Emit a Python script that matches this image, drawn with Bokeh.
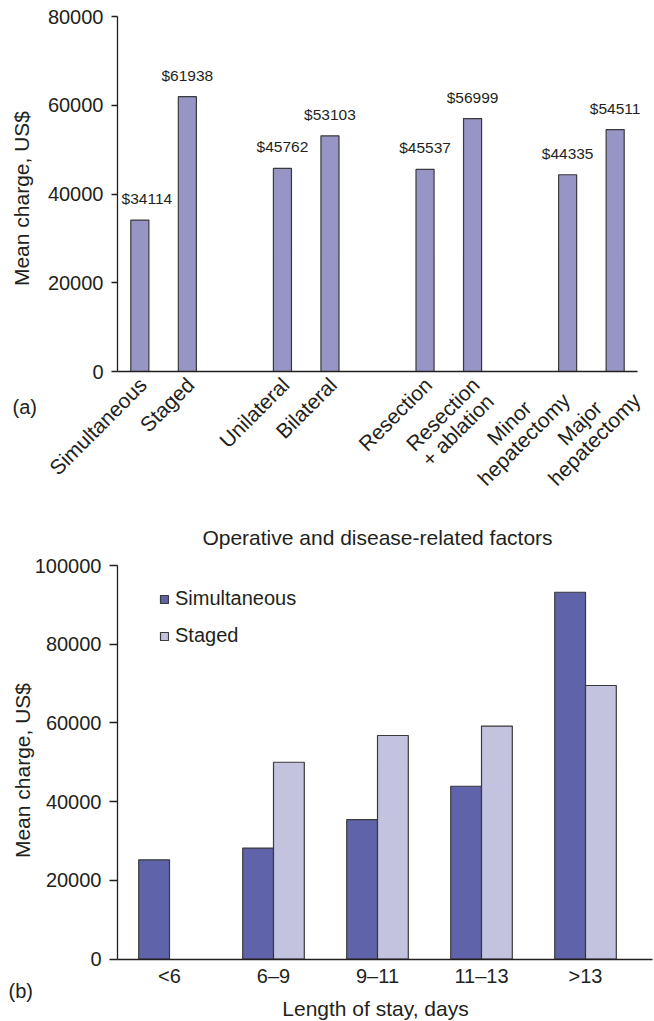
import math

from bokeh.core.properties import value
from bokeh.embed import file_html
from bokeh.layouts import column
from bokeh.models import (ColumnDataSource, FixedTicker, Label, LabelSet, Legend,
                          LegendItem, NumeralTickFormatter, Range1d)
from bokeh.plotting import figure
from bokeh.resources import INLINE

# ---- Panel (a): mean charge by operative and disease-related factor ----
NBSP = "\u00a0"
factor_labels = ["Simultaneous", "Staged", "Unilateral", "Bilateral",
                 "Resection", "Resection\n+ ablation",
                 NBSP * 6 + "Minor\nhepatectomy",
                 NBSP * 6 + "Major\nhepatectomy"]
factor_group = [0, 0, 1, 1, 2, 2, 3, 3]
factor_member = [0, 1, 0, 1, 0, 1, 0, 1]
mean_charge = [34114, 61938, 45762, 53103, 45537, 56999, 44335, 54511]
ticks_a = [0, 20000, 40000, 60000, 80000]

# ---- Panel (b): mean charge by length of stay ----
stay_bins = ["<6", "6\u20139", "9\u201311", "11\u201313", ">13"]
charge_simultaneous = [25200, 28200, 35400, 43900, 93200]
charge_staged = [None, 50000, 56800, 59200, 69500]
ticks_b = [0, 20000, 40000, 60000, 80000, 100000]

FONT = "Liberation Sans"
INK = "#231f20"
EDGE = "#3a3a3a"
W = 654

# small horizontal nudges (px) so neighbouring labels keep clear of each other
NAME_NUDGE = {6: -20, 7: 3}
VALUE_NUDGE = {0: 7}


def canvas_ranges(width, height, x0, x1, px_left, px_right, y1, px_top, px_base):
    """Ranges for a frame that fills the whole canvas, so that data x0..x1 spans
    px_left..px_right and data 0..y1 spans px_base..px_top (pixels from top-left)."""
    ux = (px_right - px_left) / (x1 - x0)
    uy = (px_base - px_top) / y1
    xr = Range1d(x0 - px_left / ux, x1 + (width - px_right) / ux)
    yr = Range1d(-(height - px_base) / uy, y1 + px_top / uy)
    return xr, yr


def base_figure(width, height, xr, yr):
    p = figure(width=width, height=height, x_range=xr, y_range=yr,
               output_backend="svg", toolbar_location=None, min_border=0,
               min_border_left=0, min_border_right=0, min_border_top=0,
               min_border_bottom=0)
    p.outline_line_color = None
    p.xgrid.grid_line_color = None
    p.ygrid.grid_line_color = None
    return p


def style_axes(p, x_lo, x_hi, y_hi, yticks, tick_out):
    xa, ya = p.xaxis[0], p.yaxis[0]
    xa.fixed_location = 0
    xa.bounds = (x_lo, x_hi)
    ya.fixed_location = x_lo
    ya.bounds = (0, y_hi)
    for ax in (xa, ya):
        ax.axis_line_color = INK
        ax.axis_line_width = 1.3
        ax.major_label_text_font = FONT
        ax.major_label_text_font_size = "20px"
        ax.major_label_text_color = INK
        ax.minor_tick_line_color = None
    xa.major_tick_line_color = None
    ya.major_tick_line_color = INK
    ya.major_tick_line_width = 1.3
    ya.major_tick_in = 0
    ya.major_tick_out = tick_out
    ya.major_label_standoff = 8
    ya.formatter = NumeralTickFormatter(format="0")
    ya.ticker = FixedTicker(ticks=yticks)


def text_label(text, x, y, height, size="21px", align="center", angle=0.0):
    # x, y in pixels from the canvas top-left
    return Label(x=x, y=height - y, x_units="screen", y_units="screen", text=text,
                 angle=angle, text_font=FONT, text_font_size=size,
                 text_color=INK, text_align=align, text_baseline="middle")


# ================= Panel (a) =================
H1 = 550
XA_LO, XA_HI = -0.47, 10.47
xr1, yr1 = canvas_ranges(W, H1, XA_LO, XA_HI, 117, 637, 80000, 16, 371)
p1 = base_figure(W, H1, xr1, yr1)

# bar centres: pairs one unit apart, pairs three units apart
pos_a = [3 * g + m for g, m in zip(factor_group, factor_member)]
n_a = len(pos_a)
src_a = ColumnDataSource(dict(
    x=pos_a,
    base=[0] * n_a,
    charge=mean_charge,
    text=["$%d" % v for v in mean_charge],
    name=factor_labels,
    value_dx=[VALUE_NUDGE.get(i, 0) for i in range(n_a)],
    name_dx=[-5 + NAME_NUDGE.get(i, 0) for i in range(n_a)],
))
p1.vbar(x="x", top="charge", width=0.38, source=src_a,
        fill_color="#9794c6", line_color=EDGE, line_width=1.2)
p1.add_layout(LabelSet(x="x", y="charge", text="text", source=src_a,
                       x_offset="value_dx", y_offset=13,
                       text_align="center", text_baseline="bottom",
                       text_font=value(FONT), text_font_size="15.5px",
                       text_color=INK))
p1.add_layout(LabelSet(x="x", y="base", text="name", source=src_a,
                       angle=math.pi / 4, x_offset="name_dx", y_offset=-1.5,
                       text_align="right", text_baseline="top",
                       text_line_height=0.95,
                       text_font=value(FONT), text_font_size="21px",
                       text_color=INK))
style_axes(p1, XA_LO, XA_HI, 80000, ticks_a, 6)
p1.xaxis.ticker = FixedTicker(ticks=[])
p1.add_layout(text_label("Mean charge, US$", 21, 198, H1, angle=math.pi / 2))
p1.add_layout(text_label("Operative and disease-related factors", 377, 537, H1))
p1.add_layout(text_label("(a)", 12, 406, H1, size="20px", align="left"))

# ================= Panel (b) =================
H2 = 1021 - H1
TOP_B = 565 - H1
XB_LO, XB_HI = -0.5, 4.644
xr2, yr2 = canvas_ranges(W, H2, XB_LO, XB_HI, 117, 652, 100000, TOP_B, 958.5 - H1)
p2 = base_figure(W, H2, xr2, yr2)

pos_b = list(range(len(stay_bins)))
src_sim = ColumnDataSource(dict(x=[i - 0.148 for i in pos_b], top=charge_simultaneous))
stg_idx = [i for i, v in enumerate(charge_staged) if v is not None]
src_stg = ColumnDataSource(dict(x=[pos_b[i] + 0.148 for i in stg_idx],
                                top=[charge_staged[i] for i in stg_idx]))
r_sim = p2.vbar(x="x", top="top", width=0.296, source=src_sim,
                fill_color="#5f63aa", line_color=EDGE, line_width=1.2)
r_stg = p2.vbar(x="x", top="top", width=0.296, source=src_stg,
                fill_color="#c3c3e0", line_color=EDGE, line_width=1.2)
style_axes(p2, XB_LO, XB_HI, 100000, ticks_b, 8)
p2.xaxis.ticker = FixedTicker(ticks=pos_b)
p2.xaxis.major_label_overrides = {x: lab for x, lab in zip(pos_b, stay_bins)}
p2.xaxis.major_label_standoff = 0
p2.add_layout(text_label("Mean charge, US$", 22, 770 - H1, H2, angle=math.pi / 2))
p2.add_layout(text_label("Length of stay, days", 375, 1008 - H1, H2))
p2.add_layout(text_label("(b)", 8, 990 - H1, H2, size="20px", align="left"))

legend = Legend(items=[LegendItem(label="Simultaneous", renderers=[r_sim]),
                       LegendItem(label="Staged", renderers=[r_stg])],
                location=(159, 374), orientation="vertical",
                glyph_width=10, glyph_height=10, label_height=10,
                label_standoff=6, spacing=14, padding=0, margin=0,
                border_line_color=None, background_fill_alpha=0,
                label_text_font=FONT, label_text_font_size="20px",
                label_text_color=INK)
p2.add_layout(legend)

layout = column(p1, p2, spacing=0)
open("out.html", "w").write(file_html(layout, INLINE))
